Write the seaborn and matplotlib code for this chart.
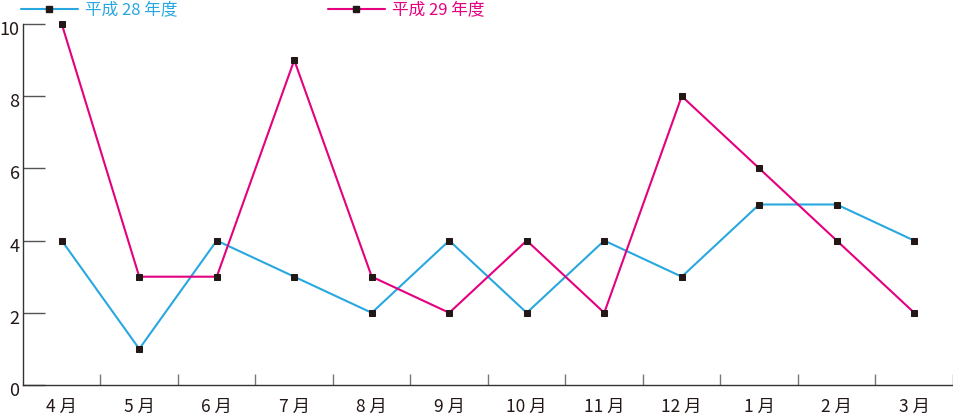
import seaborn as sns
import matplotlib.pyplot as plt
import matplotlib.transforms as mtransforms
import pandas as pd
import numpy as np
from matplotlib.lines import Line2D

months = ['4 月', '5 月', '6 月', '7 月', '8 月', '9 月', '10 月', '11 月', '12 月', '1 月', '2 月', '3 月']
h28 = [4, 1, 4, 3, 2, 4, 2, 4, 3, 5, 5, 4]
h29 = [10, 3, 3, 9, 3, 2, 4, 2, 8, 6, 4, 2]
series_names = ['平成 28 年度', '平成 29 年度']
colors = ['#29a8e0', '#e4007f']

sns.set_style('white')
plt.rcParams['font.family'] = ['Noto Sans CJK JP', 'DejaVu Sans']

df = pd.DataFrame({
    'idx': list(range(len(months))) * 2,
    'value': h28 + h29,
    'series': [series_names[0]] * len(h28) + [series_names[1]] * len(h29),
})

fig = plt.figure(figsize=(9.54, 4.18), dpi=100)
ax = fig.add_axes([23 / 954, 1 - 385 / 418, 930 / 954, 361 / 418])

sns.lineplot(data=df, x='idx', y='value', hue='series', palette=colors,
             marker='s', markersize=5, markerfacecolor='#231815', markeredgecolor='#231815',
             linewidth=1.5, ax=ax, legend=False, clip_on=False)

ax.set_xlim(-0.5, len(months) - 0.5)
ax.set_ylim(0, 10)
ax.set_xlabel('')
ax.set_ylabel('')

ax.set_xticks(range(len(months)))
ax.set_xticklabels(months, fontsize=12.5, color='#231815')
ax.tick_params(axis='x', which='major', bottom=True, length=0, pad=9)
ax.set_xticks(np.arange(0.5, len(months), 1.0), minor=True)
ax.tick_params(axis='x', which='minor', bottom=True, direction='in', length=8, width=1, color='#777777')

ax.set_yticks([0, 2, 4, 6, 8, 10])
ax.set_yticklabels(['0', '2', '4', '6', '8', '10'], fontsize=13, color='#231815')
ax.tick_params(axis='y', left=True, direction='in', length=16, width=1, color='#555555', pad=2.5)
shift = mtransforms.ScaledTranslation(0, -4 / 100, fig.dpi_scale_trans)
for lab in ax.get_yticklabels():
    lab.set_transform(lab.get_transform() + shift)

for side in ['top', 'right']:
    ax.spines[side].set_visible(False)
for side in ['left', 'bottom']:
    ax.spines[side].set_color('#333333')
    ax.spines[side].set_linewidth(1)

# legend above the plot
legend_x = [21 / 954, 328 / 954]
for name, c, lx in zip(series_names, colors, legend_x):
    h = Line2D([], [], color=c, linewidth=1.5, marker='s', markersize=5,
               markerfacecolor='#231815', markeredgecolor='#231815')
    fig.legend(handles=[h], labels=[name], loc='center left',
               bbox_to_anchor=(lx, 1 - 10 / 418), frameon=False,
               handlelength=3.4, handletextpad=0.45, borderaxespad=0, borderpad=0,
               fontsize=12, labelcolor=c)

fig.savefig('out.png', dpi=100)
